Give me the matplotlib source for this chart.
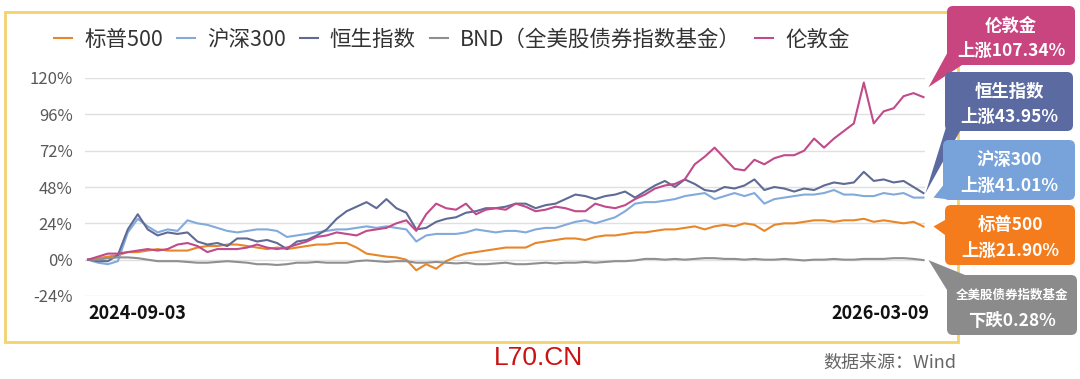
import numpy as np
import pandas as pd
import matplotlib
matplotlib.use("Agg")
import matplotlib.pyplot as plt
import matplotlib.dates as mdates
from matplotlib.patches import FancyBboxPatch, Polygon, Rectangle

plt.rcParams['font.family'] = ['Noto Sans CJK SC', 'DejaVu Sans']

start, end = "2024-09-03", "2026-03-09"
n = 85

# cumulative return, %
spx = [0, 1, 2, 3, 5, 5, 6, 7, 6, 6, 6, 8, 9, 9, 10, 10, 9, 8, 7, 8,
       7, 8, 9, 10, 10, 11, 11, 8, 4, 3, 2, 1.5, 0, -7, -3, -6, -1, 2, 4, 5,
       6, 7, 8, 8, 8, 11, 12, 13, 14, 14, 13, 15, 16, 16, 17, 18, 18, 19, 20, 20,
       21, 22, 20, 22, 23, 22, 24, 23, 19, 23, 24, 24, 25, 26, 26, 25, 26, 26, 27, 25,
       26, 25, 24, 25, 21.90]
csi300 = [0, -2, -3, -1, 18, 27, 22, 18, 20, 19, 26, 24, 23, 21, 19, 18, 19, 20, 20, 19,
          15, 16, 17, 18, 19, 20, 20, 21, 22, 21, 22, 21, 20, 12, 16, 17, 17, 17, 18, 20,
          19, 18, 19, 19, 18, 20, 21, 21, 23, 25, 26, 24, 26, 28, 32, 37, 38, 38, 39, 40,
          42, 43, 44, 40, 42, 44, 42, 44, 37, 40, 41, 42, 43, 43, 44, 46, 43, 43, 42, 42,
          44, 43, 44, 41, 41.01]
hsi = [0, -1, -1, 3, 20, 30, 20, 16, 18, 17, 18, 12, 10, 11, 9, 14, 14, 12, 13, 11,
       7, 12, 13, 16, 20, 27, 32, 35, 38, 34, 40, 34, 31, 20, 21, 25, 27, 28, 31, 32,
       34, 34, 35, 37, 37, 34, 36, 37, 40, 43, 42, 40, 42, 43, 45, 41, 45, 49, 52, 48,
       53, 50, 46, 45, 48, 47, 49, 53, 46, 48, 47, 45, 47, 46, 49, 51, 50, 51, 58, 52,
       53, 51, 52, 48, 43.95]
bnd = [0, 0, 1, 1.5, 1.5, 1, 0, -1, -1, -1, -1.5, -2, -2, -1.5, -1, -1.5, -2, -3, -3, -3.5,
       -3, -2, -2, -1.5, -2, -2, -2, -1, -0.5, -1, -1.5, -1, -1, -2, -2, -1.5, -2, -2.5, -2, -3,
       -3, -2.5, -2, -3, -3, -2.5, -2, -2.5, -2, -2, -1.5, -2, -1.5, -1, -1, -0.5, 0.5, 0.5, 0, 0.5,
       0, 0.5, 1, 1, 0.5, 0.5, 0, 0.5, 0, 0, 0.5, 0, -0.5, 0, 0, 0.5, 0, 0, 0.5, 0.5,
       0.5, 1, 1, 0.5, -0.28]
gold = [0, 2, 4, 4, 5, 6, 7, 6, 7, 10, 11, 9, 5, 7, 7, 7, 8, 10, 8, 7,
        8, 10, 12, 15, 16, 18, 17, 16, 19, 20, 21, 24, 26, 19, 30, 37, 34, 33, 37, 30,
        33, 34, 33, 37, 35, 32, 33, 35, 34, 32, 32, 37, 35, 34, 36, 40, 43, 47, 49, 50,
        53, 63, 68, 74, 67, 60, 59, 66, 63, 67, 69, 69, 72, 80, 74, 80, 85, 90, 117, 90,
        98, 100, 108, 110, 107.34]

names = ['标普500', '沪深300', '恒生指数', 'BND（全美股债券指数基金）', '伦敦金']
colors = ['#e8862a', '#82aadb', '#5f6b94', '#8f8f8f', '#c04a8a']
yticks = [-24, 0, 24, 48, 72, 96, 120]

box_titles = ['伦敦金', '恒生指数', '沪深300', '标普500', '全美股债券指数基金']
box_values = ['上涨107.34%', '上涨43.95%', '上涨41.01%', '上涨21.90%', '下跌0.28%']
box_colors = ['#c8457f', '#5b6aa0', '#78a3da', '#f47c1c', '#8b8b8b']

dates = pd.date_range(start, end, periods=n)
series = [spx, csi300, hsi, bnd, gold]

W, H = 1080, 379
fig = plt.figure(figsize=(W / 100, H / 100), dpi=100)

# pixel overlay for frame, boxes, footer
ov = fig.add_axes([0, 0, 1, 1], zorder=0)
ov.set_xlim(0, W)
ov.set_ylim(H, 0)
ov.axis('off')
ov.add_patch(Rectangle((5, 12), 953, 330, fill=False, ec='#f3d36b', lw=2))

ax = fig.add_axes([85 / W, (H - 296) / H, 840 / W, 218 / H], zorder=1)
ax.patch.set_alpha(0)
for s, c, nm in zip(series, colors, names):
    ax.plot(dates, s, color=c, lw=1.5, label=nm)
pad = pd.Timedelta(days=2)
ax.set_xlim(dates[0] - pad, dates[-1] + pd.Timedelta(days=1))
ax.set_ylim(-24, 120)
ax.set_yticks(yticks)
ax.set_yticklabels([f'{v}%' for v in yticks], color='#595959', fontsize=12)
ax.tick_params(axis='y', length=0, pad=9)
ax.set_xticks([])
ax.grid(axis='y', color='#e0e0e0', lw=1)
ax.set_axisbelow(True)
for sp in ax.spines.values():
    sp.set_visible(False)

xt = ax.get_xaxis_transform()
ax.text(dates[0], -0.078, start, transform=xt, ha='left', va='center',
        fontsize=13, fontweight='bold', color='#111111')
ax.text(dates[-1] + pd.Timedelta(days=4), -0.078, end, transform=xt, ha='right', va='center',
        fontsize=13, fontweight='bold', color='#111111')

fig.legend(loc='center left', bbox_to_anchor=(54 / W, 1 - 40 / H), ncol=5, frameon=False,
           fontsize=15.5, handlelength=0.85, handletextpad=0.55, columnspacing=0.65,
           borderpad=0, borderaxespad=0, labelcolor='#333333')

# callout boxes in pixel coords
boxes = [(947, 6, 128, 59), (945, 72, 128, 59), (943, 140, 132, 60),
         (945, 205, 130, 60), (947, 275, 130, 60)]
end_vals = [gold[-1], hsi[-1], csi300[-1], spx[-1], bnd[-1]]
tip_dx = [5, 2, 10, 10, 5]
tip_dy = [-10, 0, 0, 0, 0]
ov_box = [(950, 48, 962, 65), (947, 124, 960, 131), (945, 183, 945, 199),
          (945, 220, 945, 235), (947, 290, 965, 275)]

fig.canvas.draw()
for i in range(5):
    x0, y0, w, h = boxes[i]
    px, py = ax.transData.transform((mdates.date2num(dates[-1]), end_vals[i]))
    tip = (px + tip_dx[i], H - py + tip_dy[i])
    bx1, by1, bx2, by2 = ov_box[i]
    ov.add_patch(Polygon([tip, (bx1, by1), (bx2, by2)], closed=True,
                         fc=box_colors[i], ec='none', zorder=3))
    ov.add_patch(FancyBboxPatch((x0, y0), w, h, boxstyle='round,pad=0,rounding_size=6',
                                fc=box_colors[i], ec='none', zorder=3))
    cx = x0 + w / 2
    fs1 = 9 if i == 4 else 12.5
    ov.text(cx, y0 + h * 0.34, box_titles[i], ha='center', va='center', color='white',
            fontsize=fs1, fontweight='bold', zorder=4)
    ov.text(cx, y0 + h * 0.76, box_values[i], ha='center', va='center', color='white',
            fontsize=12.5, fontweight='bold', zorder=4)

ov.text(539, 358, 'L70.CN', ha='center', va='center', color='#cc1111',
        fontsize=19, family=['Liberation Sans', 'DejaVu Sans'])
ov.text(823, 363, '数据来源：Wind', ha='left', va='center', color='#666666', fontsize=13)

fig.savefig('out.png', dpi=100)
